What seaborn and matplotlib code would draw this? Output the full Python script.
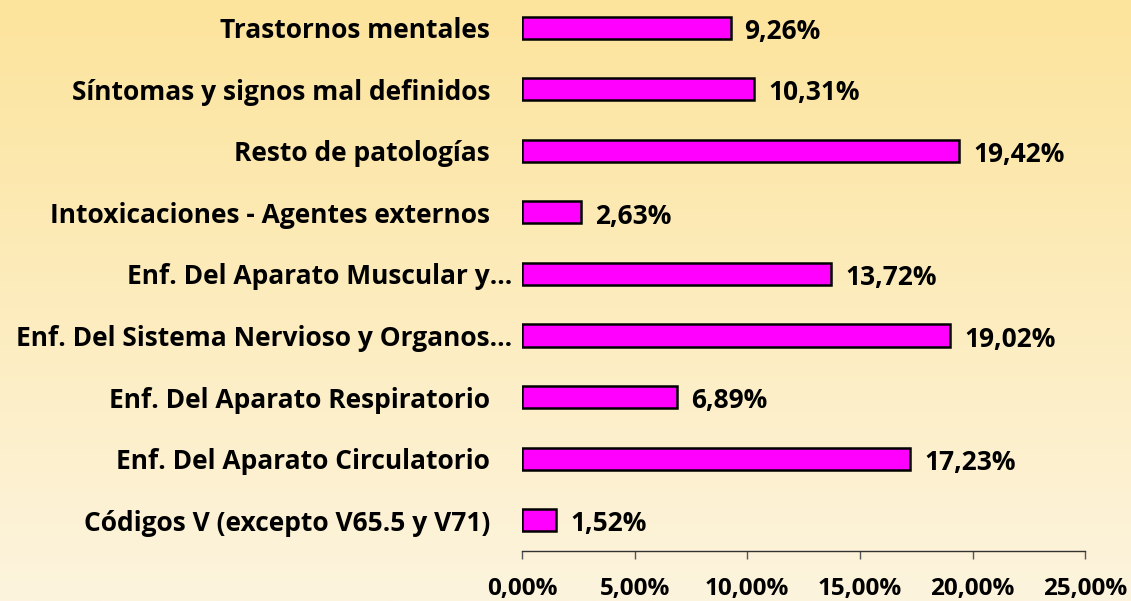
import numpy as np
import pandas as pd
import matplotlib.pyplot as plt
import matplotlib.transforms as mtransforms
import seaborn as sns

# Data (top to bottom as in the chart)
categories = [
    "Trastornos mentales",
    "Síntomas y signos mal definidos",
    "Resto de patologías",
    "Intoxicaciones - Agentes externos",
    "Enf. Del Aparato Muscular y…",
    "Enf. Del Sistema Nervioso y Organos…",
    "Enf. Del Aparato Respiratorio",
    "Enf. Del Aparato Circulatorio",
    "Códigos V (excepto V65.5 y V71)",
]
values = [9.26, 10.31, 19.42, 2.63, 13.72, 19.02, 6.89, 17.23, 1.52]
xticks = [0, 5, 10, 15, 20, 25]

df = pd.DataFrame({"cat": categories, "val": values})

sns.set_style("white")
plt.rcParams["font.family"] = ["Open Sans", "DejaVu Sans"]
plt.rcParams["font.weight"] = "bold"
plt.rcParams["text.color"] = "black"
plt.rcParams["xtick.color"] = "black"
plt.rcParams["ytick.color"] = "black"
FS = 19

fig = plt.figure(figsize=(11.31, 6.01), dpi=100)

# background gradient
bg = fig.add_axes([0, 0, 1, 1], zorder=-1)
top = np.array([252, 228, 156]) / 255
bot = np.array([253, 244, 222]) / 255
t = np.linspace(0, 1, 256)[:, None]
grad = (top * (1 - t) + bot * t)[:, None, :]
bg.imshow(grad, aspect="auto", extent=[0, 1, 0, 1])
bg.axis("off")

ax = fig.add_axes([0.4615, 0.0832, 0.498, 0.922])
ax.patch.set_alpha(0)
sns.barplot(data=df, x="val", y="cat", order=categories, color="#FF00FF",
            edgecolor="black", linewidth=1.8, width=0.36, saturation=1, ax=ax)

ax.set_xlim(0, 25)
ax.set_ylim(8.5, -0.5)
ax.set_xticks(xticks)
ax.set_xticklabels([f"{v:.2f}%".replace(".", ",") for v in xticks],
                   fontsize=17.5, fontweight="bold")
ax.tick_params(axis="x", bottom=True, direction="out", length=6, width=1,
               color="#555555", pad=13)
ax.tick_params(axis="y", left=False, length=0, pad=23)
for lbl in ax.get_yticklabels():
    lbl.set_fontsize(FS)
    lbl.set_fontweight("bold")
    if lbl.get_text().endswith("…"):
        lbl.set_transform(lbl.get_transform() +
                          mtransforms.ScaledTranslation(16 / 72, 0, fig.dpi_scale_trans))
ax.set_xlabel("")
ax.set_ylabel("")

for s in ["top", "right", "left"]:
    ax.spines[s].set_visible(False)
ax.spines["bottom"].set_color("#333333")
ax.spines["bottom"].set_linewidth(1)

for i, v in enumerate(values):
    ax.text(v + 0.62, i + 0.06, f"{v:.2f}%".replace(".", ","), va="center", ha="left",
            fontsize=FS, fontweight="bold")

fig.savefig("out.png", dpi=100)
